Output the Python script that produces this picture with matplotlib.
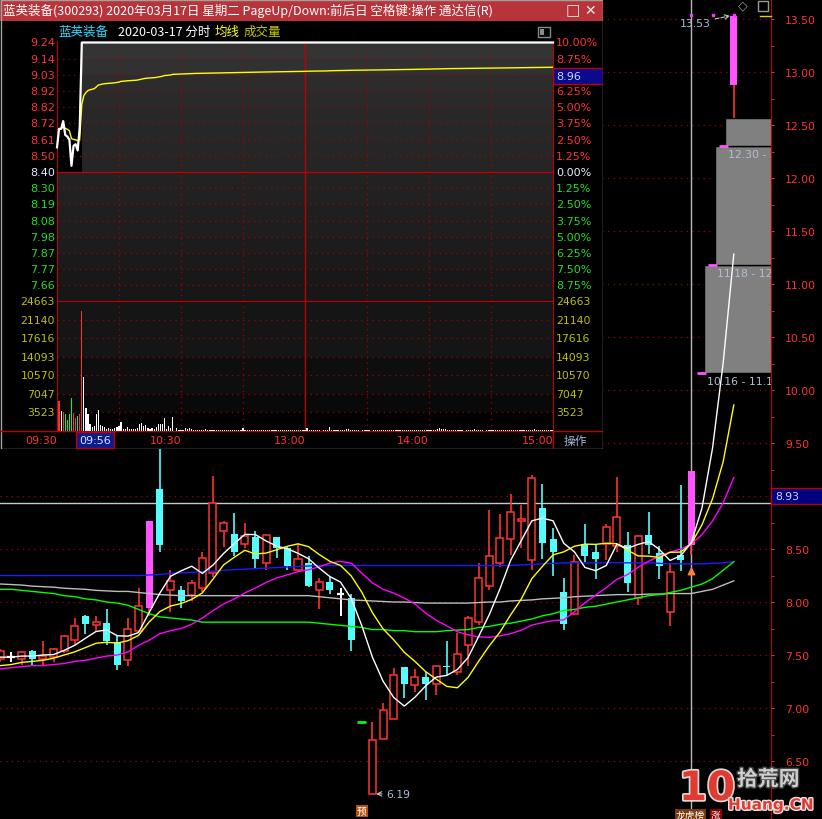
import numpy as np
import pandas as pd
import matplotlib
matplotlib.use("Agg")
import matplotlib.pyplot as plt
from matplotlib.patches import Rectangle
from matplotlib.lines import Line2D
import matplotlib.patheffects as pe

plt.rcParams['font.family'] = ['DejaVu Sans', 'Noto Sans CJK SC']
CJK = ['Noto Sans CJK SC', 'DejaVu Sans']

# ---- 日K线 (蓝英装备 300293) ----
opens = [7.46, 7.48, 7.46, 7.54, 7.46, 7.48, 7.54, 7.64, 7.87, 7.78,
         7.80, 7.62, 7.45, 7.73, 7.94, 9.07, 8.11, 8.11, 8.07, 8.13,
         8.27, 8.67, 8.64, 8.55, 8.61, 8.37, 8.61, 8.51, 8.30, 8.37,
         8.11, 8.19, 8.08, 8.04, 6.87, 6.19, 6.71, 6.90, 7.39, 7.22,
         7.29, 7.23, 7.40, 7.34, 7.59, 7.81, 8.15, 8.37, 8.59, 8.76,
         8.40, 8.89, 8.59, 8.09, 7.89, 8.55, 8.47, 8.55, 8.53, 8.54,
         8.04, 8.63, 8.46, 7.91, 8.44, 8.54, 10.16, 11.18, 12.30, 12.88]
highs = [7.56, 7.53, 7.54, 7.55, 7.63, 7.57, 7.69, 7.85, 7.88, 7.87,
         7.93, 7.68, 7.85, 8.13, 8.76, 9.60, 8.30, 8.15, 8.21, 8.47,
         9.19, 8.76, 8.84, 8.75, 8.67, 8.64, 8.61, 8.52, 8.55, 8.43,
         8.23, 8.24, 8.13, 8.08, 6.87, 6.87, 7.05, 7.38, 7.39, 7.37,
         7.34, 7.40, 7.63, 7.71, 7.87, 8.37, 8.87, 8.83, 9.02, 8.92,
         9.20, 9.11, 8.70, 8.23, 8.44, 8.74, 8.54, 8.74, 9.18, 8.66,
         8.63, 8.85, 8.53, 8.37, 9.10, 9.24, 10.16, 11.18, 12.30, 13.53]
lows = [7.43, 7.43, 7.41, 7.41, 7.40, 7.43, 7.52, 7.59, 7.70, 7.73,
        7.59, 7.36, 7.40, 7.72, 7.87, 8.47, 7.91, 7.94, 8.01, 8.09,
        8.24, 8.52, 8.43, 8.51, 8.31, 8.30, 8.42, 8.30, 8.28, 8.14,
        7.93, 8.08, 7.87, 7.54, 6.87, 6.19, 6.71, 6.90, 7.09, 7.15,
        7.08, 7.12, 7.31, 7.31, 7.40, 7.78, 8.11, 8.33, 8.44, 8.51,
        8.30, 8.41, 8.25, 7.74, 7.88, 8.38, 8.22, 8.40, 8.47, 8.09,
        7.97, 8.45, 8.22, 7.77, 8.29, 8.44, 10.16, 11.18, 12.30, 12.57]
closes = [7.54, 7.48, 7.53, 7.46, 7.49, 7.56, 7.68, 7.77, 7.79, 7.81,
          7.63, 7.41, 7.75, 7.96, 8.76, 8.54, 8.20, 8.01, 8.18, 8.42,
          8.93, 8.75, 8.47, 8.62, 8.41, 8.63, 8.51, 8.34, 8.41, 8.15,
          8.19, 8.11, 8.08, 7.64, 6.87, 6.70, 6.98, 7.31, 7.23, 7.29,
          7.23, 7.40, 7.39, 7.51, 7.85, 8.23, 8.43, 8.60, 8.85, 8.78,
          9.17, 8.56, 8.47, 7.79, 8.38, 8.43, 8.41, 8.71, 8.80, 8.18,
          8.62, 8.54, 8.34, 8.28, 8.40, 9.24, 10.16, 11.18, 12.30, 13.53]

# 均线起始段（窗口之前的历史读图）
ma5_head = [7.48, 7.48, 7.49, 7.49]
ma10_head = [7.40, 7.41, 7.43, 7.44, 7.45, 7.47, 7.50, 7.53, 7.57]
ma20_head = [7.37, 7.38, 7.39, 7.40, 7.40, 7.41, 7.42, 7.44, 7.45, 7.47,
             7.49, 7.50, 7.53, 7.59, 7.64, 7.70, 7.73, 7.75, 7.79]
ma60 = [8.12, 8.12, 8.11, 8.10, 8.09, 8.08, 8.06, 8.05, 8.03, 8.02,
        8.00, 7.99, 7.97, 7.93, 7.89, 7.86, 7.85, 7.84, 7.83, 7.81,
        7.81, 7.81, 7.81, 7.81, 7.81, 7.81, 7.81, 7.81, 7.81, 7.81,
        7.80, 7.79, 7.78, 7.77, 7.76, 7.74, 7.74, 7.73, 7.73, 7.72,
        7.72, 7.72, 7.73, 7.735, 7.74, 7.76, 7.77, 7.79, 7.80, 7.82,
        7.84, 7.87, 7.89, 7.92, 7.93, 7.95, 7.96, 7.98, 8.00, 8.02,
        8.04, 8.06, 8.07, 8.09, 8.11, 8.14, 8.17, 8.22, 8.30, 8.38]
ma120 = [8.17, 8.165, 8.16, 8.15, 8.145, 8.14, 8.13, 8.125, 8.12, 8.11,
         8.105, 8.10, 8.10, 8.09, 8.08, 8.07, 8.065, 8.06, 8.06, 8.06,
         8.06, 8.06, 8.06, 8.06, 8.06, 8.06, 8.06, 8.06, 8.06, 8.06,
         8.05, 8.04, 8.03, 8.02, 8.015, 8.01, 8.005, 8.00, 8.00, 7.995,
         7.99, 7.99, 7.99, 7.99, 7.99, 7.995, 8.00, 8.00, 8.01, 8.015,
         8.02, 8.03, 8.035, 8.04, 8.05, 8.055, 8.06, 8.065, 8.07, 8.07,
         8.07, 8.075, 8.075, 8.08, 8.08, 8.08, 8.10, 8.12, 8.16, 8.20]
ma250 = [8.25, 8.25, 8.25, 8.25, 8.25, 8.25, 8.25, 8.25, 8.25, 8.25,
         8.25, 8.25, 8.25, 8.25, 8.255, 8.26, 8.27, 8.275, 8.28, 8.285,
         8.29, 8.30, 8.305, 8.31, 8.315, 8.32, 8.325, 8.33, 8.335, 8.34,
         8.345, 8.345, 8.345, 8.345, 8.345, 8.345, 8.345, 8.345, 8.345, 8.345,
         8.345, 8.345, 8.345, 8.345, 8.345, 8.345, 8.345, 8.345, 8.345, 8.35,
         8.355, 8.36, 8.365, 8.37, 8.37, 8.37, 8.37, 8.37, 8.37, 8.37,
         8.37, 8.37, 8.365, 8.36, 8.36, 8.36, 8.36, 8.365, 8.37, 8.38]

cursor_idx = 65
dot_idx = [65, 67, 69]
dot_price = [13.54, 13.54, 13.54]
flag_idx = [65]
flag_price = [8.29]
last_line = 8.93

# ---- 分时 2020-03-17 ----
pre_close = 8.40
price_labels = ['9.24', '9.14', '9.03', '8.92', '8.82', '8.72', '8.61', '8.50', '8.40',
                '8.30', '8.19', '8.08', '7.98', '7.87', '7.77', '7.66']
price_open_part = [8.56, 8.68, 8.68, 8.73, 8.64, 8.63, 8.61, 8.44, 8.57, 8.58, 8.54, 8.69]
limit_price = 9.24
min_prices = price_open_part + [limit_price] * (241 - len(price_open_part))
min_volumes = [
    5690, 3790, 3670, 3290, 2090, 3160, 6260, 3410, 2470, 2840,
    3290, 22800, 10300, 4360, 3290, 1330, 820, 950, 3290, 3980,
    1140, 1010, 820, 380, 570, 380, 320, 510, 700, 1010,
    1770, 380, 440, 700, 320, 380, 380, 380, 570, 1390,
    1580, 1010, 1140, 570, 320, 570, 380, 760, 1330, 1330,
    1260, 2470, 380, 950, 510, 2650, 60, 570, 200, 200,
    200, 570, 380, 510, 320, 250, 190, 130, 250, 130,
    190, 320, 130, 190, 130, 190, 250, 130, 190, 130,
    130, 190, 130, 190, 250, 130, 190, 130, 190, 570,
    130, 190, 130, 130, 190, 130, 190, 130, 130, 190,
    130, 190, 130, 190, 130, 190, 130, 130, 190, 130,
    190, 130, 190, 130, 190, 130, 130, 190, 130, 130,
    570, 190, 130, 190, 130, 190, 130, 0, 190, 130,
    190, 820, 130, 190, 130, 190, 130, 190, 250, 380,
    380, 250, 130, 190, 130, 190, 0, 190, 130, 190,
    130, 0, 190, 130, 190, 130, 190, 190, 130, 250,
    190, 130, 190, 130, 190, 130, 190, 130, 190, 130,
    190, 130, 190, 130, 190, 130, 190, 130, 190, 130,
    190, 130, 250, 380, 500, 440, 440, 320, 190, 130,
    190, 130, 190, 130, 190, 130, 0, 190, 130, 190,
    130, 380, 190, 130, 190, 130, 0, 190, 130, 190,
    130, 190, 130, 190, 130, 190, 130, 190, 130, 190,
    130, 190, 130, 190, 130, 190, 130, 190, 130, 190,
    380, 190, 130, 190, 130, 190, 130, 190, 130, 250]
vol_top = 24663
time_ticks = [0, 60, 120, 180, 240]
time_labels = ['09:30', '10:30', '13:00', '14:00', '15:00']

RED = '#ff3232'
CYAN = '#54fcfc'
MAGENTA = '#ff54ff'
GRID = '#a80000'
DOT = (0, (1, 3.5))

W, H = 822, 820
fig = plt.figure(figsize=(W / 100, H / 100), dpi=100)
fig.patch.set_facecolor('black')


def px_axes(x0, y0, x1, y1):
    return fig.add_axes([x0 / W, 1 - y1 / H, (x1 - x0) / W, (y1 - y0) / H])


def clean(a):
    a.set_facecolor('black')
    a.set_xticks([])
    a.set_yticks([])
    for s in a.spines.values():
        s.set_visible(False)


# ================= 主图 日K =================
ax = px_axes(0, 0, 771, 820)
clean(ax)
n = len(closes)
idx = np.arange(n)
ax.set_xlim(-0.035, 72.5)
ax.set_ylim(5.953, 13.689)

ax.yaxis.tick_right()
major = np.arange(6.5, 13.51, 0.5)
ax.set_yticks(major)
# 9.00 被最新价标签盖住
ax.set_yticklabels(['' if abs(v - 9.0) < 1e-6 else f'{v:.2f}' for v in major],
                   color=RED, fontsize=7.8)
ax.set_yticks(np.arange(6.25, 13.7, 0.25), minor=True)
ax.tick_params(axis='y', which='both', length=2.5, color=RED, pad=7.5, direction='out')
ax.spines['right'].set_visible(True)
ax.spines['right'].set_color('#c00000')
for v in major:
    ax.axhline(v, color=GRID, lw=0.9, ls=DOT, zorder=0.5)

# 缺口
for k in range(66, 69):
    lo, hi = highs[k], lows[k + 1]
    ax.add_patch(Rectangle((k + 0.2, lo), 80, hi - lo, facecolor='#808080',
                           edgecolor='black', lw=1, zorder=1))
    ax.text(k + 0.45, lo - 0.03, f'{lo:.2f} - {hi:.2f}', color='#b4bed0',
            fontsize=7.8, va='top', ha='left', clip_on=True, zorder=6)

ax.axvline(cursor_idx, color='#b8b8b8', lw=1, zorder=1.5)
ax.axhline(last_line, color='#c8c8c8', lw=1, zorder=1.5)

body_w = 0.66
for i in range(n):
    o, h, l, c = opens[i], highs[i], lows[i], closes[i]
    prev = closes[i - 1] if i > 0 else o
    limit = i > 0 and c > o and abs(c - round(prev * 1.1, 2)) < 0.011
    if h == l:
        col = MAGENTA if c > prev else '#00ff00'
        ax.hlines(c, i - 0.42, i + 0.42, color=col, lw=2, zorder=3)
    elif limit:
        ax.vlines(i, l, h, color=RED, lw=1.2, zorder=2)
        ax.bar(i, c - o, bottom=o, width=body_w, color=MAGENTA, zorder=3)
    elif c > o:
        ax.vlines(i, c, h, color=RED, lw=1.2, zorder=2)
        ax.vlines(i, l, o, color=RED, lw=1.2, zorder=2)
        ax.bar(i, c - o, bottom=o, width=body_w, facecolor='black',
               edgecolor=RED, lw=1.1, zorder=3)
    elif c < o:
        ax.vlines(i, l, h, color=CYAN, lw=1.2, zorder=2)
        ax.bar(i, o - c, bottom=c, width=body_w, color=CYAN, zorder=3)
    else:
        ax.vlines(i, l, h, color='white', lw=1.4, zorder=2)
        ax.hlines(c, i - body_w / 2, i + body_w / 2, color='white', lw=1.6, zorder=3)

# 均线
cs = pd.Series(closes)
ma5 = np.concatenate([ma5_head, cs.rolling(5).mean().values[4:]])
ma10 = np.concatenate([ma10_head, cs.rolling(10).mean().values[9:]])
ma20 = np.concatenate([ma20_head, cs.rolling(20).mean().values[19:]])
for vals, col in [(ma250, '#1c1cff'), (ma120, '#bdbdbd'), (ma60, '#00ff00'),
                  (ma20, '#ff00ff'), (ma10, '#ffff00'), (ma5, '#ffffff')]:
    ax.plot(idx, vals, color=col, lw=1, zorder=4)

ax.scatter(dot_idx, dot_price, marker='s', s=4, color='#ff33ff', zorder=5)
ax.scatter(flag_idx, flag_price, marker='^', s=22, color='#ff8040', zorder=5)

ax.annotate(f'{highs[69]:.2f}', xy=(69 - 0.35, highs[69]), xytext=(-50, -7),
            textcoords='offset pixels', color='#a8bcd8', fontsize=7.8, ha='left', va='center',
            arrowprops=dict(arrowstyle='->', ls='--', color='#c8c8c8', lw=0.8,
                            shrinkA=1, shrinkB=0), zorder=6)
ax.annotate(f'{lows[35]:.2f}', xy=(35 + 0.35, lows[35]), xytext=(10, 0),
            textcoords='offset pixels', color='#a8bcd8', fontsize=7.8, ha='left', va='center',
            arrowprops=dict(arrowstyle='->', color='#c8c8c8', lw=0.8,
                            shrinkA=1, shrinkB=0), zorder=6)

# 右侧最新价标签
ytr = ax.get_yaxis_transform()
ax.add_patch(Rectangle((1.0, 8.925), 0.07, 0.15, transform=ytr, facecolor='#000080',
                       edgecolor='#c00000', lw=1, clip_on=False, zorder=7))
ax.text(1.005, 9.0, f'{last_line:.2f}', transform=ytr, color='#c8d4ff', fontsize=7.8,
        va='center', ha='left', clip_on=False, zorder=8)

# 底部标记
ax.text(34, 6.03, '预', family=CJK, fontsize=7, color='white', ha='center', va='center',
        bbox=dict(boxstyle='square,pad=0.1', fc='#b5500f', ec='none'), zorder=6)
ax.text(64.9, 5.995, '龙虎榜', family=CJK, fontsize=7, color='white', ha='center', va='center',
        bbox=dict(boxstyle='square,pad=0.1', fc='#7a3a10', ec='none'), zorder=6, clip_on=False)
ax.text(67.3, 5.995, '涨', family=CJK, fontsize=7, color='white', ha='center', va='center',
        bbox=dict(boxstyle='square,pad=0.1', fc='#8b0000', ec='none'), zorder=6, clip_on=False)

# ================= 分时弹窗 =================
axp = px_axes(0, 0, 603, 450)
clean(axp)
axp.set_xlim(0, 603)
axp.set_ylim(450, 0)
axp.add_patch(Rectangle((0, 0), 603, 22, facecolor='#b8343a', edgecolor='none'))
axp.text(3, 11, '蓝英装备(300293) 2020年03月17日 星期二 PageUp/Down:前后日 空格键:操作 通达信(R)',
         family=CJK, fontsize=9.0, color='white', va='center', ha='left')
axp.text(573, 11, '□', fontsize=11, color='#eeeeee', va='center', ha='center')
axp.text(590, 11, '✕', fontsize=10, color='#eeeeee', va='center', ha='center')
axp.text(58, 32, '蓝英装备', family=CJK, fontsize=9, color='#30d8ff', va='center')
axp.text(118, 32, '2020-03-17 分时', family=CJK, fontsize=9, color='white', va='center')
axp.text(215, 32, '均线', family=CJK, fontsize=9, color='#ffff00', va='center')
axp.text(244, 32, '成交量', family=CJK, fontsize=9, color='#c8c800', va='center')
axp.add_patch(Rectangle((538, 27.5), 12, 10, facecolor='none', edgecolor='#8a8a8a', lw=1))
axp.add_patch(Rectangle((540, 29.5), 4, 6, facecolor='#8a8a8a', edgecolor='none'))
axp.hlines(432, 0, 603, color='#c00000', lw=1)
axp.vlines(553, 432, 450, color='#c00000', lw=1)
axp.text(575, 441, '操作', family=CJK, fontsize=8.5, color='#a8b8d8', va='center', ha='center')
axp.add_patch(Rectangle((0.5, 0.5), 602, 449, facecolor='none', edgecolor='#a0a0a0', lw=1))
axp.add_patch(Rectangle((553, 69), 50, 16, facecolor='#0a0a8c', edgecolor='#c00000', lw=1, zorder=5))
axp.text(556, 77, '8.96', fontsize=8, color='#c8d4ff', va='center', ha='left', zorder=6)

# 价格区
axi = px_axes(57, 42, 553, 302)
clean(axi)
axi.set_xlim(0, 240)
axi.set_ylim(7.5633, 9.2497)
step = pre_close * 0.0125
band_cols = ['#343434', '#313131', '#2c2c2c', '#2a2a2a', '#282828', '#272727', '#262626', '#252525',
             '#222222', '#212121', '#1f1f1f', '#1e1e1e', '#1c1c1c', '#1a1a1a', '#181818', '#171717']
for j, bc in enumerate(band_cols):
    top = pre_close + (8 - j) * step
    axi.axhspan(top - step, top, color=bc, lw=0, zorder=0)
axi.add_patch(Rectangle((0, pre_close), 12.2, 9.3 - pre_close, facecolor='black',
                        edgecolor='none', zorder=0.2))
ytr_i = axi.get_yaxis_transform()
for j, lab in enumerate(price_labels):
    k = 8 - j
    lvl = pre_close + k * step
    if k > 0:
        col = RED
    elif k == 0:
        col = '#e0ecff'
    else:
        col = '#22e022'
    if k == 0:
        axi.axhline(lvl, color='#c00000', lw=1, zorder=1)
    elif k < 8:
        axi.axhline(lvl, color=GRID, lw=0.9, ls=DOT, zorder=1)
    axi.text(-0.004, lvl, lab, transform=ytr_i, color=col, fontsize=8,
             ha='right', va='center', clip_on=False)
    if k != 6:
        axi.text(1.006, lvl, f'{abs(k) * 1.25:.2f}%', transform=ytr_i, color=col, fontsize=8,
                 ha='left', va='center', clip_on=False)
for t in [30, 60, 90, 150, 180, 210]:
    axi.axvline(t, color=GRID, lw=0.9, ls=DOT, zorder=1)
axi.axvline(120, color='#c00000', lw=1, zorder=1)
for s in ['left', 'right']:
    axi.spines[s].set_visible(True)
    axi.spines[s].set_color('#c00000')

p = np.array(min_prices)
v = np.array(min_volumes, dtype=float)
mx = np.arange(len(p))
vwap = np.cumsum(p[1:] * v) / np.cumsum(v)
axi.plot(mx[1:], vwap, color='#ffff00', lw=1, zorder=3)
axi.plot(mx, p, color='white', lw=1.6, zorder=4, clip_on=False)

# 成交量区
axv = px_axes(57, 302, 553, 432)
clean(axv)
axv.set_xlim(0, 240)
axv.set_ylim(0, vol_top)
axv.axhspan(vol_top * 4 / 7, vol_top, color='#151515', lw=0, zorder=0)
axv.axhspan(vol_top * 2 / 7, vol_top * 4 / 7, color='#0e0e0e', lw=0, zorder=0)
axv.axhspan(vol_top * 1 / 7, vol_top * 2 / 7, color='#090909', lw=0, zorder=0)
ytr_v = axv.get_yaxis_transform()
for k in range(1, 8):
    lvl = vol_top * k / 7
    if k < 7:
        axv.axhline(lvl, color=GRID, lw=0.9, ls=DOT, zorder=1)
    for xx, ha in [(-0.004, 'right'), (1.006, 'left')]:
        axv.text(xx, lvl, f'{round(lvl)}', transform=ytr_v, color='#c0c000', fontsize=7.8,
                 ha=ha, va='center', clip_on=False)
for t in [30, 60, 90, 150, 180, 210]:
    axv.axvline(t, color=GRID, lw=0.9, ls=DOT, zorder=1)
axv.axvline(120, color='#c00000', lw=1, zorder=1)
bar_cols = []
for k in range(1, len(p)):
    if p[k] > p[k - 1]:
        bar_cols.append(RED)
    elif p[k] < p[k - 1]:
        bar_cols.append('#00ff00')
    else:
        bar_cols.append('white')
axv.bar(mx[1:], v, width=0.55, color=bar_cols, zorder=2)
for s in axv.spines.values():
    s.set_visible(True)
    s.set_color('#c00000')

xtr_v = axv.get_xaxis_transform()
for t, lab in zip(time_ticks, time_labels):
    axv.text(t, -0.068, lab, transform=xtr_v, color=RED, fontsize=8, ha='right',
             va='center', clip_on=False)
axv.text(26, -0.068, '09:56', transform=xtr_v, color='#d8e4ff', fontsize=8, ha='right',
         va='center', clip_on=False,
         bbox=dict(boxstyle='square,pad=0.25', fc='#0c1c8c', ec='#c00000', lw=1))

# ================= 其他装饰 =================
fig.text(743 / W, 1 - 6 / H, '◇', color='#9a9a9a', fontsize=9, ha='center', va='center')
fig.add_artist(Rectangle((758 / W, 1 - 12 / H), 10 / W, 10 / H, facecolor='none',
                         edgecolor='#9a9a9a', lw=1, transform=fig.transFigure))
fig.add_artist(Line2D([760 / W, 771 / W], [1 - 17 / H, 1 - 17 / H], color='#d8d800', lw=1,
                      transform=fig.transFigure))

# 水印
fig.text(679 / W, 1 - 790 / H, '10', color='#e23a30', fontsize=29, fontweight='bold',
         ha='left', va='center',
         path_effects=[pe.withStroke(linewidth=2.5, foreground='#d8d8d8')])
fig.text(737 / W, 1 - 780 / H, '拾荒网', family=CJK, color='#cfcfcf', fontsize=15,
         fontweight='bold', ha='left', va='center',
         path_effects=[pe.withStroke(linewidth=2, foreground='#404040')])
fig.text(728 / W, 1 - 806 / H, 'Huang.CN', color='#e23a30', fontsize=11, fontweight='bold',
         ha='left', va='center',
         path_effects=[pe.withStroke(linewidth=2, foreground='#e8e8e8')])

fig.savefig('out.png', dpi=100, facecolor='black')
